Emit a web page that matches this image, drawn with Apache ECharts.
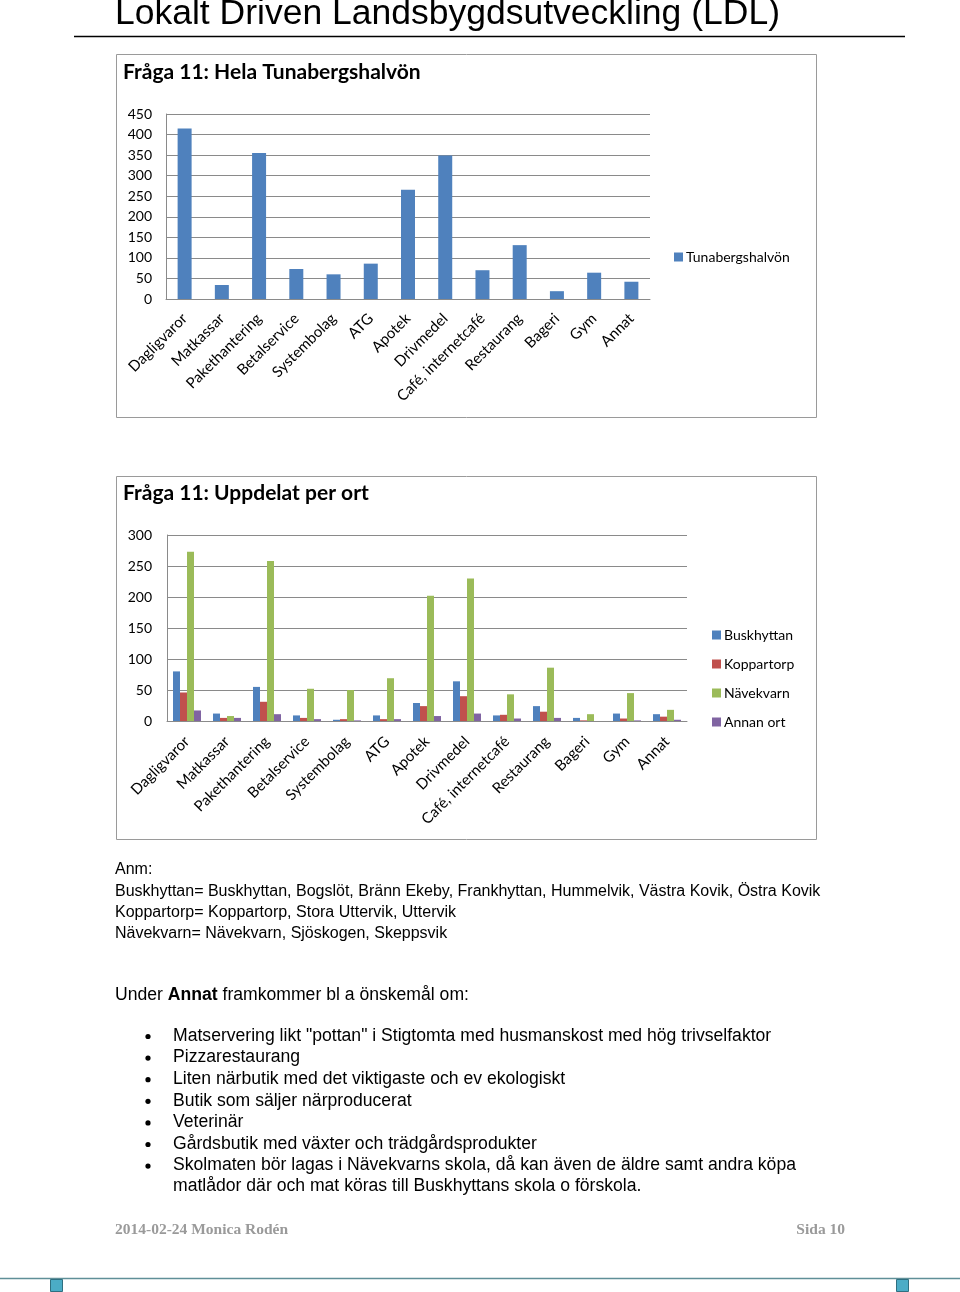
<!DOCTYPE html>
<html>
<head>
<meta charset="utf-8">
<script src="https://cdn.jsdelivr.net/npm/echarts@6/dist/echarts.min.js"></script>
<style>
  html, body { margin: 0; padding: 0; background: #fff; }
  #page { width: 960px; height: 1292px; }
</style>
</head>
<body>
<div id="page"></div>
<script>
// categories shared by both charts
const categories = ["Dagligvaror", "Matkassar", "Pakethantering", "Betalservice", "Systembolag", "ATG",
  "Apotek", "Drivmedel", "Café, internetcafé", "Restaurang", "Bageri", "Gym", "Annat"];

// Fråga 11: Hela Tunabergshalvön
const tunabergshalvon = [415, 34, 355, 73, 60, 86, 266, 349, 70, 131, 19, 64, 42];

// Fråga 11: Uppdelat per ort
const buskhyttan = [80, 12, 55, 9, 2, 9, 29, 64, 9, 24, 5, 12, 11];
const koppartorp = [46, 5, 31, 5, 3, 3, 24, 40, 10, 15, 1, 4, 7];
const navekvarn = [273, 8, 258, 52, 50, 69, 202, 230, 43, 86, 11, 45, 18];
const annanOrt = [17, 5, 11, 3, 1, 3, 8, 12, 4, 5, 0, 1, 2];

const chartFont = "Lato, 'Open Sans', sans-serif";
const colors = ["#4F81BD", "#C0504D", "#9BBB59", "#8064A2"];

const chart = echarts.init(document.getElementById("page"), null, { renderer: "canvas" });

function xAxisFor(gridIndex, margin) {
  return {
    type: "category",
    gridIndex: gridIndex,
    data: categories,
    axisLine: { show: true, lineStyle: { color: "#8a8a8a", width: 1 } },
    axisTick: { show: false },
    axisLabel: {
      rotate: 45,
      interval: 0,
      margin: margin,
      color: "#000",
      fontFamily: chartFont,
      fontSize: 15,
    },
  };
}

function yAxisFor(gridIndex, max, interval, margin) {
  return {
    type: "value",
    gridIndex: gridIndex,
    min: 0,
    max: max,
    interval: interval,
    axisLine: { show: true, lineStyle: { color: "#8a8a8a", width: 1 } },
    axisTick: { show: false },
    splitLine: { lineStyle: { color: "#8a8a8a", width: 1 } },
    axisLabel: { color: "#000", fontFamily: chartFont, fontSize: 14, margin: margin },
  };
}

// body text (Arial-like)
const noteFont = "16px 'Liberation Sans', Arial, sans-serif";
const bodyFont = "17.6px 'Liberation Sans', Arial, sans-serif";
const noteLines = [
  "Anm:",
  "Buskhyttan= Buskhyttan, Bogslöt, Bränn Ekeby, Frankhyttan, Hummelvik, Västra Kovik, Östra Kovik",
  "Koppartorp= Koppartorp, Stora Uttervik, Uttervik",
  "Nävekvarn= Nävekvarn, Sjöskogen, Skeppsvik",
];
const bulletLines = [
  "Matservering likt \"pottan\" i Stigtomta med husmanskost med hög trivselfaktor",
  "Pizzarestaurang",
  "Liten närbutik med det viktigaste och ev ekologiskt",
  "Butik som säljer närproducerat",
  "Veterinär",
  "Gårdsbutik med växter och trädgårdsprodukter",
  "Skolmaten bör lagas i Nävekvarns skola, då kan även de äldre samt andra köpa",
];

const graphics = [
  // page header
  { type: "text", left: 115, top: -4, style: { text: "Lokalt Driven Landsbygdsutveckling (LDL)", font: "35.5px 'Liberation Sans', Arial, sans-serif", fill: "#000" } },
  { type: "line", shape: { x1: 74, y1: 36.5, x2: 905, y2: 36.5 }, style: { stroke: "#000", lineWidth: 1.5 } },
  // chart frames
  { type: "rect", shape: { x: 116.5, y: 54.5, width: 700, height: 363 }, style: { fill: null, stroke: "#9a9a9a", lineWidth: 1 } },
  { type: "rect", shape: { x: 116.5, y: 476.5, width: 700, height: 363 }, style: { fill: null, stroke: "#9a9a9a", lineWidth: 1 } },
  // chart titles
  { type: "text", left: 123, top: 62, style: { text: "Fråga 11: Hela Tunabergshalvön", font: "bold 21px " + chartFont, fill: "#000" } },
  { type: "text", left: 123, top: 483, style: { text: "Fråga 11: Uppdelat per ort", font: "bold 21px " + chartFont, fill: "#000" } },
  // footer
  { type: "text", left: 115, top: 1222, style: { text: "2014-02-24 Monica Rodén", font: "bold 15.5px 'Liberation Serif', serif", fill: "#9a9a9a" } },
  { type: "text", right: 115, top: 1222, style: { text: "Sida 10", font: "bold 15.5px 'Liberation Serif', serif", fill: "#9a9a9a" } },
  { type: "line", shape: { x1: 0, y1: 1278.5, x2: 960, y2: 1278.5 }, style: { stroke: "#5f8f98", lineWidth: 1.5 } },
  { type: "rect", shape: { x: 50.5, y: 1279.5, width: 12, height: 12 }, style: { fill: "#4BACC6", stroke: "#2f6f80", lineWidth: 1 } },
  { type: "rect", shape: { x: 896.5, y: 1279.5, width: 12, height: 12 }, style: { fill: "#4BACC6", stroke: "#2f6f80", lineWidth: 1 } },
  // "Under Annat ..." line with bold word
  {
    type: "text", left: 115, top: 986,
    style: {
      text: "{n|Under }{b|Annat}{n| framkommer bl a önskemål om:}",
      rich: {
        n: { font: bodyFont, fill: "#000" },
        b: { font: "bold " + bodyFont, fill: "#000" },
      },
    },
  },
  { type: "text", left: 173, top: 1177, style: { text: "matlådor där och mat köras till Buskhyttans skola o förskola.", font: bodyFont, fill: "#000" } },
];

noteLines.forEach(function (line, i) {
  graphics.push({ type: "text", left: 115, top: 862 + i * 21.3, style: { text: line, font: noteFont, fill: "#000" } });
});
bulletLines.forEach(function (line, i) {
  const y = 1027 + i * 21.6;
  graphics.push({ type: "circle", shape: { cx: 148, cy: y + 9.5, r: 2.6 }, style: { fill: "#000" } });
  graphics.push({ type: "text", left: 173, top: y, style: { text: line, font: bodyFont, fill: "#000" } });
});

chart.setOption({
  animation: false,
  color: colors,
  textStyle: { fontFamily: chartFont },
  grid: [
    { left: 166, top: 114, width: 484, height: 185 },
    { left: 167, top: 535, width: 520, height: 186 },
  ],
  xAxis: [xAxisFor(0, 17), xAxisFor(1, 18)],
  yAxis: [yAxisFor(0, 450, 50, 14), yAxisFor(1, 300, 50, 15)],
  legend: [
    {
      data: ["Tunabergshalvön"],
      left: 669,
      top: 245,
      icon: "rect",
      itemWidth: 9,
      itemHeight: 9,
      itemGap: 6,
      textStyle: { fontFamily: chartFont, fontSize: 14, color: "#000", padding: [0, 0, 0, -2] },
    },
    {
      data: ["Buskhyttan", "Koppartorp", "Nävekvarn", "Annan ort"],
      orient: "vertical",
      left: 707,
      top: 623,
      icon: "rect",
      itemWidth: 9,
      itemHeight: 9,
      itemGap: 15,
      textStyle: { fontFamily: chartFont, fontSize: 14, color: "#000", padding: [0, 0, 0, -2] },
    },
  ],
  series: [
    {
      name: "Tunabergshalvön", type: "bar", xAxisIndex: 0, yAxisIndex: 0,
      data: tunabergshalvon, barWidth: 14, itemStyle: { color: colors[0] },
    },
    { name: "Buskhyttan", type: "bar", xAxisIndex: 1, yAxisIndex: 1, data: buskhyttan, barWidth: 7, barGap: "0%", itemStyle: { color: colors[0] } },
    { name: "Koppartorp", type: "bar", xAxisIndex: 1, yAxisIndex: 1, data: koppartorp, barWidth: 7, barGap: "0%", itemStyle: { color: colors[1] } },
    { name: "Nävekvarn", type: "bar", xAxisIndex: 1, yAxisIndex: 1, data: navekvarn, barWidth: 7, barGap: "0%", itemStyle: { color: colors[2] } },
    { name: "Annan ort", type: "bar", xAxisIndex: 1, yAxisIndex: 1, data: annanOrt, barWidth: 7, barGap: "0%", itemStyle: { color: colors[3] } },
  ],
  graphic: graphics,
});
</script>
</body>
</html>
